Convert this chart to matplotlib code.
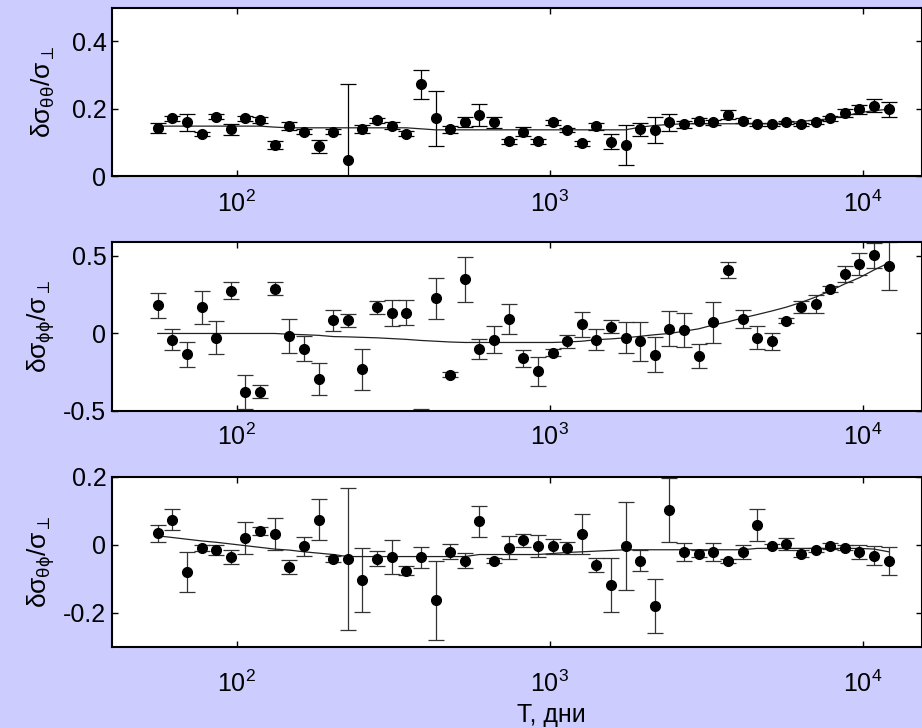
import matplotlib

matplotlib.use("Agg")
import matplotlib.pyplot as plt
from matplotlib.ticker import NullLocator

plt.rcParams["font.family"] = ["Liberation Sans", "DejaVu Sans"]
plt.rcParams["mathtext.fontset"] = "custom"
plt.rcParams["mathtext.rm"] = "Liberation Sans"
plt.rcParams["mathtext.it"] = "Liberation Sans"

BG = "#ccccff"

# periods, days
T = [56, 62.4, 69.4, 77.3, 86.1, 95.9, 106.7, 118.9, 132.4, 147.4,
     164.1, 182.8, 203.5, 226.6, 252.4, 281, 312.9, 348.4, 388, 432,
     481, 535.6, 596.4, 664.1, 739.5, 823.4, 916.9, 1021, 1137, 1266,
     1409, 1569, 1747, 1946, 2167, 2413, 2687, 2992, 3331, 3709,
     4130, 4599, 5121, 5702, 6350, 7070, 7873, 8766, 9761, 10870, 12100]

# dsigma_theta_theta / sigma_perp
tt_val = [0.143, 0.171, 0.159, 0.125, 0.176, 0.138, 0.171, 0.165, 0.093, 0.149,
          0.131, 0.088, 0.131, 0.048, 0.139, 0.165, 0.149, 0.126, 0.272, 0.171,
          0.138, 0.159, 0.182, 0.159, 0.103, 0.131, 0.103, 0.159, 0.136, 0.097,
          0.147, 0.102, 0.092, 0.138, 0.136, 0.159, 0.153, 0.164, 0.159, 0.182,
          0.164, 0.153, 0.153, 0.159, 0.153, 0.159, 0.171, 0.187, 0.198, 0.209, 0.198]
tt_err = [0.014, 0.008, 0.025, 0.006, 0.008, 0.017, 0.008, 0.009, 0.012, 0.012,
          0.007, 0.019, 0.007, 0.225, 0.012, 0.007, 0.010, 0.008, 0.044, 0.081,
          0.010, 0.015, 0.033, 0.017, 0.008, 0.013, 0.008, 0.007, 0.006, 0.008,
          0.010, 0.022, 0.058, 0.020, 0.039, 0.025, 0.010, 0.007, 0.007, 0.013,
          0.007, 0.005, 0.005, 0.005, 0.005, 0.006, 0.007, 0.012, 0.013, 0.020, 0.022]
tt_fit = [0.148, 0.148, 0.148, 0.148, 0.148, 0.148, 0.148, 0.148, 0.145, 0.143,
          0.143, 0.143, 0.143, 0.143, 0.143, 0.143, 0.143, 0.143, 0.140, 0.137,
          0.137, 0.137, 0.137, 0.137, 0.137, 0.137, 0.137, 0.137, 0.137, 0.137,
          0.137, 0.137, 0.137, 0.145, 0.150, 0.153, 0.155, 0.155, 0.155, 0.155,
          0.155, 0.155, 0.155, 0.158, 0.162, 0.166, 0.170, 0.178, 0.188, 0.194, 0.198]

# dsigma_phi_phi / sigma_perp
pp_val = [0.181, -0.039, -0.134, 0.168, -0.026, 0.276, -0.375, -0.375, 0.289, -0.015,
          -0.097, -0.291, 0.084, 0.084, -0.231, 0.168, 0.134, 0.134, -0.600, 0.228,
          -0.265, 0.349, -0.099, -0.039, 0.093, -0.159, -0.244, -0.123, -0.050, 0.058,
          -0.039, 0.045, -0.026, -0.050, -0.136, 0.032, 0.022, -0.147, 0.071, 0.409,
          0.093, -0.026, -0.050, 0.082, 0.168, 0.190, 0.287, 0.384, 0.446, 0.504, 0.435]
pp_err = [0.079, 0.065, 0.080, 0.109, 0.109, 0.053, 0.109, 0.041, 0.041, 0.109,
          0.080, 0.103, 0.066, 0.042, 0.134, 0.042, 0.084, 0.080, 0.115, 0.133,
          0.015, 0.143, 0.065, 0.090, 0.097, 0.055, 0.095, 0.020, 0.042, 0.080,
          0.065, 0.041, 0.100, 0.126, 0.115, 0.114, 0.110, 0.078, 0.134, 0.054,
          0.060, 0.073, 0.054, 0.017, 0.039, 0.061, 0.020, 0.050, 0.070, 0.080, 0.155]
pp_fit = [0.0, 0.0, 0.0, 0.0, 0.0, 0.0, 0.0, 0.0, 0.0, -0.005,
          -0.008, -0.012, -0.020, -0.022, -0.025, -0.028, -0.033, -0.038, -0.045, -0.050,
          -0.055, -0.058, -0.058, -0.058, -0.058, -0.058, -0.058, -0.058, -0.055, -0.050,
          -0.040, -0.035, -0.028, -0.018, -0.008, 0.0, 0.015, 0.030, 0.055, 0.075,
          0.100, 0.122, 0.145, 0.170, 0.200, 0.235, 0.275, 0.320, 0.360, 0.410, 0.455]

# dsigma_theta_phi / sigma_perp
tp_val = [0.035, 0.075, -0.079, -0.009, -0.014, -0.035, 0.020, 0.040, 0.031, -0.064,
          -0.003, 0.075, -0.041, -0.041, -0.102, -0.041, -0.036, -0.075, -0.036, -0.163,
          -0.020, -0.046, 0.070, -0.046, -0.008, 0.014, -0.003, -0.003, -0.008, 0.032,
          -0.058, -0.118, -0.003, -0.046, -0.179, 0.103, -0.020, -0.025, -0.020, -0.046,
          -0.020, 0.059, -0.003, 0.003, -0.025, -0.014, -0.003, -0.008, -0.020, -0.031, -0.047]
tp_err = [0.025, 0.031, 0.059, 0.008, 0.015, 0.020, 0.047, 0.012, 0.047, 0.020,
          0.028, 0.060, 0.008, 0.210, 0.094, 0.022, 0.050, 0.013, 0.031, 0.116,
          0.022, 0.022, 0.045, 0.008, 0.034, 0.019, 0.033, 0.022, 0.017, 0.058,
          0.021, 0.080, 0.130, 0.031, 0.080, 0.093, 0.027, 0.010, 0.027, 0.006,
          0.021, 0.047, 0.005, 0.018, 0.010, 0.006, 0.008, 0.008, 0.020, 0.027, 0.040]
tp_fit = [0.027, 0.022, 0.017, 0.012, 0.008, 0.003, -0.002, -0.007, -0.012, -0.015,
          -0.020, -0.024, -0.028, -0.034, -0.034, -0.034, -0.034, -0.034, -0.034, -0.034,
          -0.034, -0.034, -0.028, -0.028, -0.028, -0.028, -0.028, -0.025, -0.022, -0.020,
          -0.018, -0.016, -0.014, -0.014, -0.014, -0.014, -0.014, -0.014, -0.014, -0.014,
          -0.014, -0.010, -0.010, -0.010, -0.010, -0.010, -0.010, -0.010, -0.010, -0.012, -0.020]

panels = [
    (tt_val, tt_err, tt_fit, r"$\delta\sigma_{\theta\theta}/\sigma_\perp$",
     (0, 0.5), [0, 0.2, 0.4], ["0", "0.2", "0.4"], "k", 10.5),
    (pp_val, pp_err, pp_fit, r"$\delta\sigma_{\phi\phi}/\sigma_\perp$",
     (-0.5, 0.59), [-0.5, 0, 0.5], ["-0.5", "0", "0.5"], "#333333", 9),
    (tp_val, tp_err, tp_fit, r"$\delta\sigma_{\theta\phi}/\sigma_\perp$",
     (-0.3, 0.2), [-0.2, 0, 0.2], ["-0.2", "0", "0.2"], "#333333", 17),
]

W, H = 922, 728
fig = plt.figure(figsize=(W / 100, H / 100), dpi=100, facecolor=BG)

# axes boxes in pixels: (top, bottom)
boxes = [(7.5, 176), (242, 411), (477, 647)]
left_px, right_px = 112, 921.5

for (val, err, fit, ylab, ylim, yt, ytl, ecol, xpad), (top, bot) in zip(panels, boxes):
    ax = fig.add_axes([left_px / W, 1 - bot / H, (right_px - left_px) / W, (bot - top) / H])
    ax.set_facecolor("white")
    ax.errorbar(T, val, yerr=err, fmt="none", ecolor=ecol, elinewidth=0.9,
                capsize=6, capthick=0.9, zorder=2)
    ax.plot(T, val, "o", color="k", markersize=7, zorder=3)
    ax.plot(T, fit, "-", color="#222222", lw=0.9, zorder=2.5)
    ax.set_xscale("log")
    ax.set_xlim(40, 15400)
    ax.set_ylim(*ylim)
    ax.set_xticks([100, 1000, 10000])
    ax.set_xticklabels([r"$10^2$", r"$10^3$", r"$10^4$"])
    ax.xaxis.set_minor_locator(NullLocator())
    ax.set_yticks(yt)
    ax.set_yticklabels(ytl)
    ax.tick_params(axis="both", which="major", direction="in", top=True, right=True,
                   length=4, width=1, labelsize=18)
    ax.tick_params(axis="x", pad=xpad)
    ax.tick_params(axis="y", pad=4)
    for sp in ax.spines.values():
        sp.set_linewidth(1.5)
    ax.set_ylabel(ylab, fontsize=19)
    ax.yaxis.set_label_coords(-0.068, 0.5)

fig.text(551 / W, 1 - 715 / H, "T, дни", fontsize=18, ha="center", va="center")

fig.savefig("out.png", dpi=100, facecolor=BG)
